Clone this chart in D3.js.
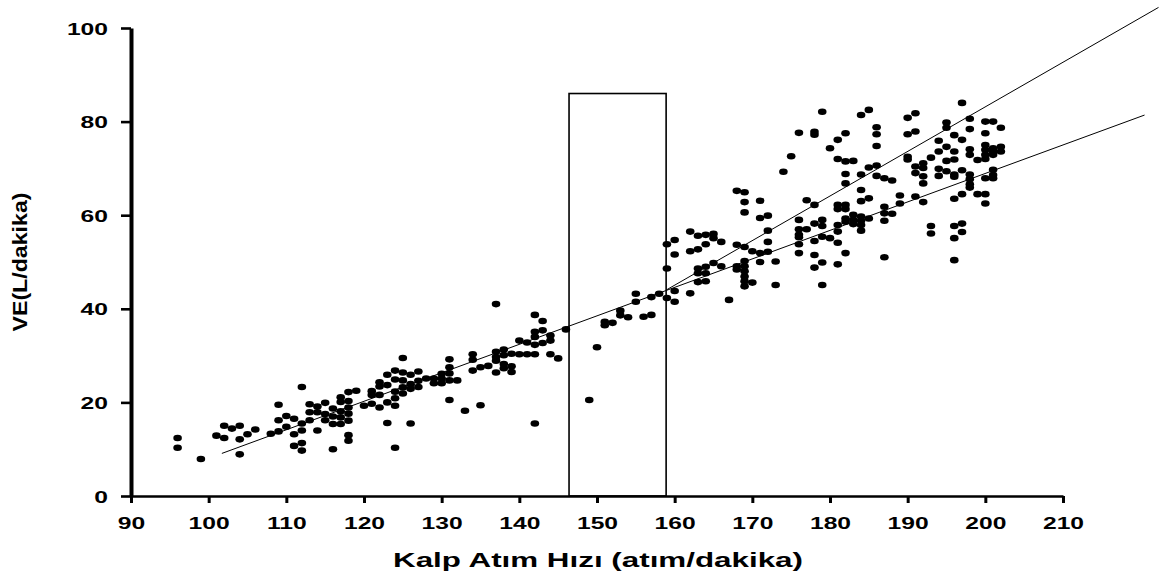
<!DOCTYPE html>
<html>
<head>
<meta charset="utf-8">
<script src="https://cdn.jsdelivr.net/npm/d3@7"></script>
<style>
    body { margin: 0; background: #fff; }
    text { font-family: "Liberation Sans", Arial, sans-serif; font-weight: bold; fill: #000; }
</style>
</head>
<body>
<script>
//heart rate columns and the VE readings taken at each one
var heartRate = [96, 99, 101, 102, 103, 104, 105, 106, 108, 109, 110, 111, 112, 113, 114, 115, 116, 117, 118, 119,
    120, 121, 122, 123, 124, 125, 126, 127, 128, 129, 130, 131, 132, 133, 134, 135, 136, 137, 138, 139,
    140, 141, 142, 143, 144, 145, 146, 149, 150, 151, 152, 153, 154, 155, 156, 157, 158, 159, 160, 162,
    163, 164, 165, 166, 167, 168, 169, 170, 171, 172, 173, 174, 175, 176, 177, 178, 179, 180, 181, 182,
    183, 184, 185, 186, 187, 188, 189, 190, 191, 192, 193, 194, 195, 196, 197, 198, 199, 200, 201, 202];

var veValues = [
    [12.4, 10.3], [7.9], [12.9], [15.0, 12.4], [14.4], [15.0, 12.1, 8.9], [13.2], [14.2], [13.3],
    [19.5, 16.2, 13.8], [17.1, 14.8], [16.5, 13.2, 10.7], [23.3, 15.5, 14.0, 11.3, 9.7], [19.6, 17.9, 16.2],
    [19.1, 17.9, 14.0], [19.9, 17.5, 16.2], [18.7, 17.0, 15.4, 10.0], [21.1, 20.1, 18.1, 16.8, 15.4],
    [22.2, 20.3, 18.9, 17.6, 16.1, 13.0, 11.8], [22.5],
    [19.3], [22.4, 21.6, 19.7], [24.3, 23.4, 21.6, 18.9], [25.9, 23.7, 20.0, 15.6],
    [26.8, 24.9, 22.3, 20.9, 19.3, 10.3], [29.5, 26.4, 24.7, 23.2, 21.9], [25.9, 23.9, 22.9, 15.5],
    [26.6, 24.6, 23.3], [25.1], [25.1, 24.1], [26.1, 25.1, 24.1], [29.2, 27.5, 26.2, 24.7, 20.5], [24.7],
    [18.2], [30.3, 29.1, 26.8], [27.5, 19.4], [27.8], [41.0, 30.8, 29.7, 28.9, 26.4], [31.3, 30.1, 28.2, 27.3],
    [30.4, 27.7, 26.5],
    [33.2, 30.3], [32.8, 30.3], [38.7, 35.1, 34.0, 32.3, 30.3, 15.5], [37.4, 35.4, 32.7], [34.3, 33.2, 30.3],
    [29.4], [35.6], [20.5], [31.8], [37.2, 36.5], [37.0], [39.6, 38.6], [38.2], [43.2, 41.5], [38.3],
    [42.5, 38.7], [43.2], [53.8, 48.6, 42.3], [54.7, 51.6, 43.8, 41.5], [56.5, 52.3, 43.3],
    [55.6, 52.7, 48.6, 47.6, 45.7], [55.8, 53.8, 49.0, 47.6, 45.9], [56.0, 55.1, 49.8], [54.3, 49.1], [41.9],
    [65.2, 53.7, 49.1, 48.4], [64.9, 62.8, 60.6, 53.2, 50.2, 49.1, 48.0, 46.9, 45.9, 44.8], [52.3, 45.6],
    [63.1, 59.4, 51.9, 50.0], [59.9, 56.7, 54.3, 52.2], [50.1, 45.1], [69.3], [72.6],
    [77.6, 59.0, 57.0, 55.8, 55.3, 53.8, 51.9], [63.2, 57.0], [77.8, 77.2, 62.2, 58.2, 54.5, 51.5, 48.8],
    [82.1, 59.0, 57.7, 55.4, 49.9, 45.1], [74.3, 55.1], [76.1, 72.0, 62.2, 61.3, 57.9, 56.5, 54.1, 49.5],
    [77.5, 71.5, 68.8, 66.8, 62.2, 61.3, 59.3, 58.6, 51.9],
    [71.6, 60.1, 59.0, 58.1], [81.4, 68.7, 65.4, 63.0, 59.7, 58.8, 57.9, 56.7], [82.5, 70.2, 63.6, 59.3],
    [78.8, 77.3, 74.8, 70.6, 68.4], [67.9, 61.8, 60.4, 58.8, 51.0], [67.4, 60.3], [64.2, 62.5],
    [80.8, 77.3, 72.5, 71.9], [81.8, 77.9, 70.4, 69.0, 64.0], [71.1, 70.1, 68.3, 66.8, 62.8],
    [72.3, 57.7, 56.1], [75.9, 73.6, 69.9, 68.4], [79.8, 78.7, 74.6, 71.6, 69.4],
    [77.1, 73.6, 71.9, 68.7, 68.2, 63.5, 57.7, 55.1, 50.4], [84.0, 76.1, 69.6, 64.5, 58.2, 56.4],
    [80.6, 78.4, 74.1, 72.9, 68.7, 67.7, 66.6, 65.9], [71.8, 64.5],
    [80.0, 77.5, 75.0, 74.0, 72.9, 72.0, 67.9, 64.5, 62.5], [80.0, 74.3, 73.6, 72.9, 69.7, 68.6, 67.9],
    [78.7, 74.6, 73.6]
];

//fitted lines, [heart rate, VE] at both ends
var fitLow = [[101.7, 9.1], [220.5, 81.4]];
var fitHigh = [[158.9, 44.0], [222.3, 104.4]];

//threshold window (heart rate from/to, VE top)
var windowRate = [146.4, 158.9];
var windowTop = 86;

var xTicks = [90, 100, 110, 120, 130, 140, 150, 160, 170, 180, 190, 200, 210];
var yTicks = [0, 20, 40, 60, 80, 100];

window.onload = drawChart;

function drawChart(){
    var width = 1162,
        height = 576,
        stretch = 1.45; //the text in the picture is pulled wide

    var svg = d3.select("body")
        .append("svg")
        .attr("width", width)
        .attr("height", height);

    var x = d3.scaleLinear().domain([90, 210]).range([131, 1063]);
    var y = d3.scaleLinear().domain([0, 100]).range([496, 28]);

    //flatten the columns into points
    var points = heartRate.flatMap(function(h, i){
        return veValues[i].map(function(v){ return {hr: h, ve: v}; });
    });

    //threshold box
    svg.append("rect")
        .attr("x", x(windowRate[0]))
        .attr("y", y(windowTop))
        .attr("width", x(windowRate[1]) - x(windowRate[0]))
        .attr("height", y(0) - y(windowTop))
        .attr("fill", "none")
        .attr("stroke", "#000")
        .attr("stroke-width", 1.6);

    //points
    svg.selectAll(".dot")
        .data(points)
        .enter()
        .append("ellipse")
        .attr("class", "dot")
        .attr("cx", function(d){ return x(d.hr); })
        .attr("cy", function(d){ return y(d.ve); })
        .attr("rx", 4.3)
        .attr("ry", 3.3)
        .attr("fill", "#000");

    //regression lines
    var line = d3.line()
        .x(function(d){ return x(d[0]); })
        .y(function(d){ return y(d[1]); });

    svg.selectAll(".fit")
        .data([fitLow, fitHigh])
        .enter()
        .append("path")
        .attr("class", "fit")
        .attr("d", line)
        .attr("fill", "none")
        .attr("stroke", "#000")
        .attr("stroke-width", 1);

    //x axis
    var xAxis = svg.append("g")
        .attr("transform", "translate(0," + y(0) + ")")
        .call(d3.axisBottom(x).tickValues(xTicks).tickSize(7).tickSizeOuter(0));
    xAxis.select(".domain").attr("stroke-width", 2.6);
    xAxis.selectAll(".tick line").attr("stroke-width", 3);
    xAxis.selectAll(".tick text")
        .attr("y", null)
        .attr("dy", null)
        .attr("font-size", 17)
        .attr("transform", "translate(0,33) scale(" + stretch + ",1)");

    //y axis
    var yAxis = svg.append("g")
        .attr("transform", "translate(" + x(90) + ",0)")
        .call(d3.axisLeft(y).tickValues(yTicks).tickSize(10).tickSizeOuter(0));
    yAxis.select(".domain").attr("stroke-width", 4);
    yAxis.selectAll(".tick line").attr("stroke-width", 2.6);
    yAxis.selectAll(".tick text")
        .attr("x", null)
        .attr("dy", "0.36em")
        .attr("font-size", 17)
        .attr("transform", "translate(-23,0) scale(" + stretch + ",1)");

    //axis titles
    svg.append("text")
        .attr("x", 598)
        .attr("y", 567)
        .attr("text-anchor", "middle")
        .attr("font-size", 20)
        .attr("textLength", 410)
        .attr("lengthAdjust", "spacingAndGlyphs")
        .text("Kalp Atım Hızı (atım/dakika)");

    svg.append("text")
        .attr("transform", "translate(27,262) rotate(-90)")
        .attr("text-anchor", "middle")
        .attr("font-size", 21)
        .attr("textLength", 139)
        .attr("lengthAdjust", "spacingAndGlyphs")
        .text("VE(L/dakika)");
};
</script>
</body>
</html>
